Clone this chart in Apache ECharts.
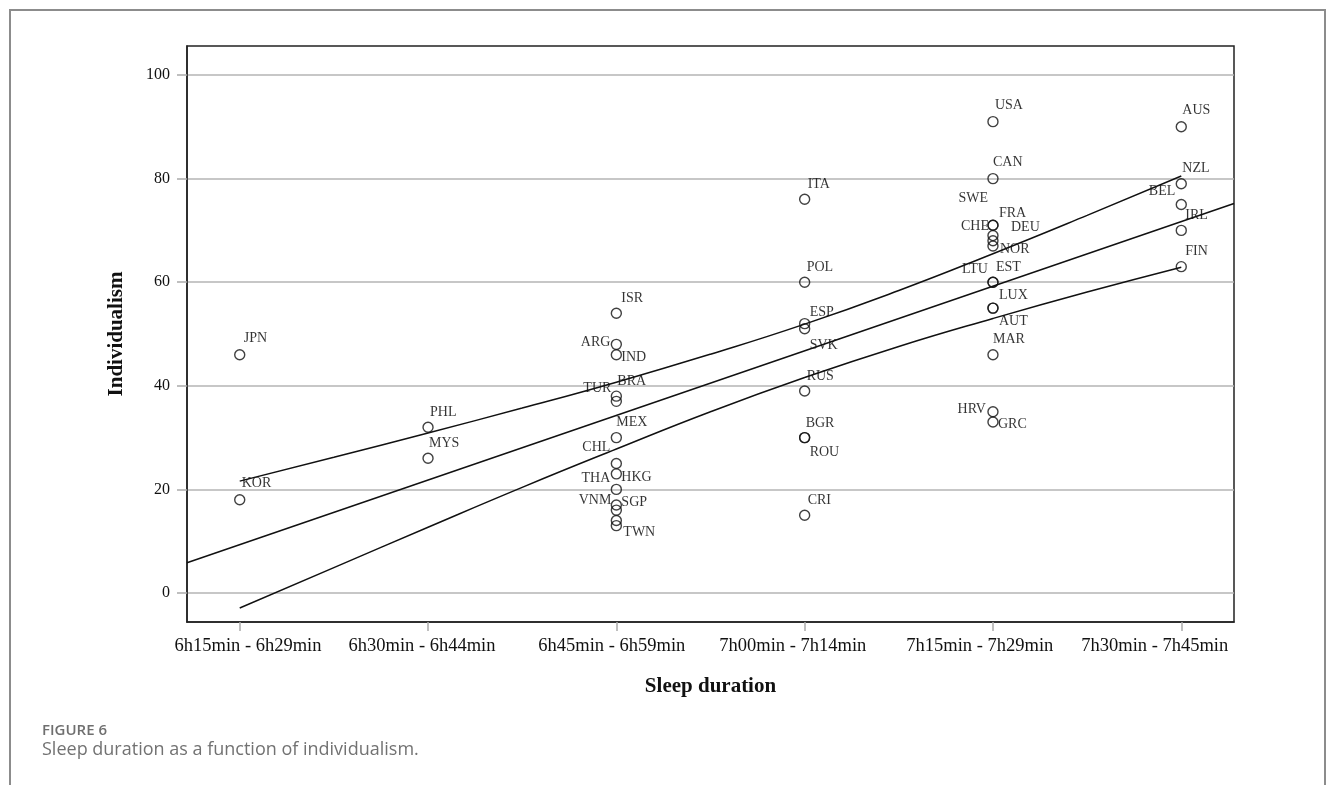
<!DOCTYPE html>
<html>
<head>
<meta charset="utf-8">
<script src="https://cdn.jsdelivr.net/npm/echarts@6/dist/echarts.min.js"></script>
<style>
  html, body { margin: 0; padding: 0; background: #ffffff; }
  #chart { width: 1335px; height: 785px; }
</style>
</head>
<body>
<div id="chart"></div>
<script>
// Sleep-duration bands (x categories) and individualism ticks
const sleepBands = ['6h15min - 6h29min', '6h30min - 6h44min', '6h45min - 6h59min',
                    '7h00min - 7h14min', '7h15min - 7h29min', '7h30min - 7h45min'];
const bandIndex = [0, 1, 2, 3, 4, 5];
const yTicks = [0, 20, 40, 60, 80, 100];

// Countries, their sleep band (index into sleepBands) and individualism score
const countries = [
  'JPN', 'KOR',
  'PHL', 'MYS',
  'ISR', 'ARG', 'IND', 'BRA', 'TUR', 'MEX', 'CHL', 'THA', 'HKG', 'VNM', 'SGP', '', 'TWN',
  'ITA', 'POL', 'ESP', 'SVK', 'RUS', 'BGR', 'ROU', 'CRI',
  'USA', 'CAN', 'SWE', 'FRA', 'NOR', 'CHE', 'DEU', 'LTU', 'EST', 'LUX', 'AUT', 'MAR', 'HRV', 'GRC',
  'AUS', 'NZL', 'BEL', 'IRL', 'FIN'
];
const sleepBand = [
  0, 0,
  1, 1,
  2, 2, 2, 2, 2, 2, 2, 2, 2, 2, 2, 2, 2,
  3, 3, 3, 3, 3, 3, 3, 3,
  4, 4, 4, 4, 4, 4, 4, 4, 4, 4, 4, 4, 4, 4,
  5, 5, 5, 5, 5
];
const individualism = [
  46, 18,
  32, 26,
  54, 48, 46, 38, 37, 30, 25, 23, 20, 17, 16, 14, 13,
  76, 60, 52, 51, 39, 30, 30, 15,
  91, 80, 71, 71, 69, 68, 67, 60, 60, 55, 55, 46, 35, 33,
  90, 79, 75, 70, 63
];

// Linear fit across the whole axis range
const fitX = [-0.28, 5.28];
const fitY = [5.85, 75.2];

// 95% confidence band of the fit
const bandX = [0, 0.5, 1, 1.5, 2, 2.5, 3, 3.5, 4, 4.5, 5];
const bandUpper = [21.6, 26.2, 30.9, 35.7, 40.7, 46.1, 51.9, 58.4, 65.5, 72.9, 80.5];
const bandLower = [-2.9, 4.9, 12.7, 20.4, 27.8, 35.0, 41.6, 47.6, 53.0, 58.1, 62.9];

// The band names are laid out on a slightly tighter pitch than the ticks;
// these are the axis values the names are centred on (rounded back to a band index).
const bandLabelAt = [0.044, 0.968, 1.976, 2.937, 3.930, 4.859];

// Where each country label sits relative to its marker: [dx, dy] in px.
// Negative dx right-aligns the text so it ends left of the marker.
const labelOffset = {
  JPN: [4, -16], KOR: [2, -16], PHL: [2, -15], MYS: [1, -15],
  ISR: [5, -15], ARG: [-6, -2], IND: [5, 3], BRA: [1, -15], TUR: [-5, -13],
  MEX: [0, -15], CHL: [-6, -16], THA: [-6, 4], HKG: [5, -12], VNM: [-5, -5],
  SGP: [5, -8], TWN: [7, 7],
  ITA: [3, -15], POL: [2, -15], ESP: [5, -11], SVK: [5, 17], RUS: [2, -15],
  BGR: [1, -14], ROU: [5, 15], CRI: [3, -15],
  USA: [2, -16], CAN: [0, -16], SWE: [-5, -27], FRA: [6, -12], NOR: [7, 14],
  CHE: [-4, -14], DEU: [18, -19], LTU: [-5, -13], EST: [3, -15], LUX: [6, -13],
  AUT: [6, 13], MAR: [0, -15], HRV: [-7, -2], GRC: [5, 2],
  AUS: [1, -16], NZL: [1, -15], BEL: [-6, -13], IRL: [4, -15], FIN: [4, -15]
};

const SERIF = '"Liberation Serif", "Times New Roman", serif';
const INK = '#111111';

const pointData = countries.map((c, i) => {
  const off = labelOffset[c] || [0, 0];
  return {
    name: c,
    value: [sleepBand[i], individualism[i]],
    label: {
      show: c !== '',
      offset: off,
      align: off[0] < 0 ? 'right' : 'left'
    }
  };
});

const chart = echarts.init(document.getElementById('chart'), null, { renderer: 'canvas' });

chart.setOption({
  animation: false,
  backgroundColor: '#ffffff',
  grid: {
    left: 187, right: 101, top: 46, bottom: 163,
    show: true, borderColor: '#222', borderWidth: 1.5, backgroundColor: 'transparent'
  },
  xAxis: {
    type: 'value',
    min: -0.28,
    max: 5.28,
    name: 'Sleep duration',
    nameLocation: 'middle',
    nameGap: 54,
    nameTextStyle: { fontFamily: SERIF, fontSize: 21, fontWeight: 'bold', color: INK },
    axisLine: { show: true, onZero: false, lineStyle: { color: '#222', width: 1.5 } },
    axisTick: { show: true, customValues: bandIndex, length: 9, lineStyle: { color: '#aaaaaa', width: 1.5 } },
    axisLabel: {
      customValues: bandLabelAt,
      formatter: v => sleepBands[Math.round(v)],
      fontFamily: SERIF, fontSize: 18.5, color: INK, margin: 15
    },
    splitLine: { show: false }
  },
  yAxis: {
    type: 'value',
    min: -5.6,
    max: 105.6,
    name: 'Individualism',
    nameLocation: 'middle',
    nameGap: 60,
    nameRotate: 90,
    nameTextStyle: { fontFamily: SERIF, fontSize: 21, fontWeight: 'bold', color: INK },
    axisLine: { show: true, onZero: false, lineStyle: { color: '#222', width: 1.5 } },
    axisTick: { show: true, customValues: yTicks, length: 10, lineStyle: { color: '#aaaaaa', width: 1.5 } },
    axisLabel: { customValues: yTicks, fontFamily: SERIF, fontSize: 16, color: INK, margin: 17 },
    splitLine: { show: true, lineStyle: { color: '#b4b4b4', width: 1.5 } }
  },
  series: [
    {
      type: 'scatter',
      silent: true,
      symbol: 'circle',
      symbolSize: 10,
      itemStyle: { color: 'rgba(0,0,0,0)', borderColor: INK, borderWidth: 1.4 },
      label: {
        show: true,
        position: 'inside',
        formatter: '{b}',
        verticalAlign: 'middle',
        fontFamily: SERIF, fontSize: 14, color: '#000000',
        textBorderWidth: 0
      },
      data: pointData,
      z: 3
    },
    {
      type: 'line',
      silent: true,
      showSymbol: false,
      symbol: 'none',
      lineStyle: { color: INK, width: 1.5 },
      data: fitX.map((x, i) => [x, fitY[i]]),
      z: 4
    },
    {
      type: 'line',
      silent: true,
      showSymbol: false,
      symbol: 'none',
      smooth: true,
      lineStyle: { color: INK, width: 1.5 },
      data: bandX.map((x, i) => [x, bandUpper[i]]),
      z: 4
    },
    {
      type: 'line',
      silent: true,
      showSymbol: false,
      symbol: 'none',
      smooth: true,
      lineStyle: { color: INK, width: 1.5 },
      data: bandX.map((x, i) => [x, bandLower[i]]),
      z: 4
    }
  ],
  graphic: [
    {
      type: 'rect',
      silent: true,
      shape: { x: 10, y: 10, width: 1315, height: 800 },
      style: { fill: 'none', stroke: '#8c8c8c', lineWidth: 2 }
    },
    {
      type: 'text',
      silent: true,
      left: 42, top: 723,
      style: { text: 'FIGURE 6', fontFamily: '"Open Sans", sans-serif', fontSize: 15, fontWeight: 600, fill: '#6f6f6f' }
    },
    {
      type: 'text',
      silent: true,
      left: 42, top: 741,
      style: { text: 'Sleep duration as a function of individualism.', fontFamily: '"Open Sans", sans-serif', fontSize: 18, fill: '#727272' }
    }
  ]
});
</script>
</body>
</html>
